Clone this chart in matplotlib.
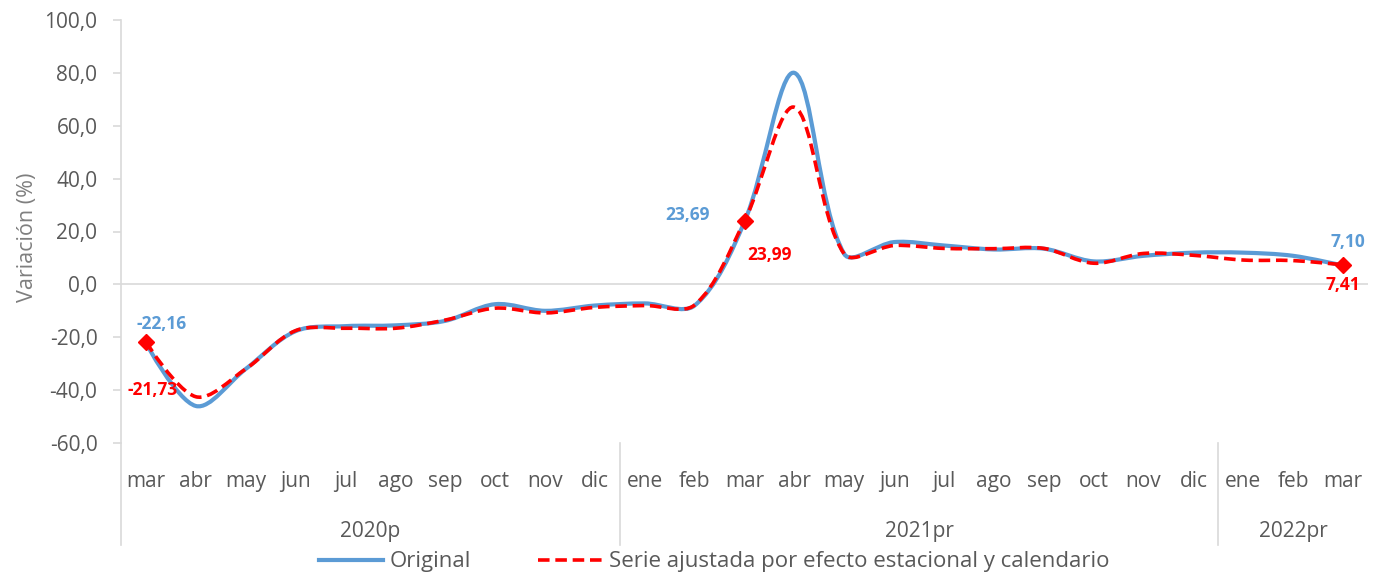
import numpy as np
import matplotlib.pyplot as plt
from matplotlib.path import Path
from matplotlib.patches import PathPatch
from matplotlib.lines import Line2D

plt.rcParams['font.family'] = ['Open Sans', 'DejaVu Sans']

months = ['mar', 'abr', 'may', 'jun', 'jul', 'ago', 'sep', 'oct', 'nov', 'dic',
          'ene', 'feb', 'mar', 'abr', 'may', 'jun', 'jul', 'ago', 'sep', 'oct', 'nov', 'dic',
          'ene', 'feb', 'mar']
years = ['2020p', '2021pr', '2022pr']
year_sizes = [10, 12, 3]

original = [-22.16, -46.0, -32.0, -17.7, -15.8, -15.5, -13.8, -7.5, -10.0, -8.0,
            -7.2, -8.0, 23.69, 80.0, 11.5, 16.0, 14.7, 13.2, 13.5, 8.7, 10.8, 12.0,
            12.0, 10.8, 7.10]
ajustada = [-21.73, -42.5, -32.0, -17.5, -16.6, -16.6, -13.5, -9.0, -10.8, -8.7,
            -8.0, -7.8, 23.99, 67.0, 11.5, 14.7, 13.6, 13.5, 13.6, 8.0, 11.7, 11.0,
            9.2, 9.0, 7.41]

blue = '#5B9BD5'
red = '#FF0000'
grey = '#595959'

# axes box in pixels
AX_L, AX_B, AX_W, AX_H = 121, 132, 1247, 423
XPX = AX_W / len(months)      # pixels per category
YPX = AX_H / 160.0            # pixels per y unit


def smooth_path(y, t=1 / 3):
    # Excel-like smoothed line: Bezier with chord-scaled tangents (screen space)
    x = np.arange(len(y), dtype=float)
    y = np.asarray(y, dtype=float)
    p = np.column_stack([x * XPX, y * YPX])
    n = len(p)
    cin = p.copy()
    cout = p.copy()
    for i in range(1, n - 1):
        d1 = np.hypot(*(p[i] - p[i - 1]))
        d2 = np.hypot(*(p[i + 1] - p[i]))
        tan = p[i + 1] - p[i - 1]
        cin[i] = p[i] - t * tan * d1 / (d1 + d2)
        cout[i] = p[i] + t * tan * d2 / (d1 + d2)
    verts = [p[0]]
    codes = [Path.MOVETO]
    for i in range(n - 1):
        verts += [cout[i], cin[i + 1], p[i + 1]]
        codes += [Path.CURVE4] * 3
    verts = np.array(verts) / [XPX, YPX]
    return Path(verts, codes)


fig = plt.figure(figsize=(13.79, 5.75), dpi=100)
ax = fig.add_axes([AX_L / 1379, AX_B / 575, AX_W / 1379, AX_H / 575])

ax.add_patch(PathPatch(smooth_path(original), fill=False, edgecolor=blue, lw=3.0,
                       capstyle='round', zorder=3))
ax.add_patch(PathPatch(smooth_path(ajustada), fill=False, edgecolor=red, lw=2.6,
                       linestyle=(0, (3.2, 1.6)), zorder=4))

mk = [0, 12, 24]
ax.plot(mk, [ajustada[i] for i in mk], linestyle='none', marker='D', ms=8,
        color=red, zorder=5)

ax.set_xlim(-0.5, len(months) - 0.5)
ax.set_ylim(-60, 100)
ax.set_yticks(np.arange(-60, 101, 20))
ax.set_yticklabels([f'{v:.1f}'.replace('.', ',') for v in np.arange(-60, 101, 20)])
ax.axhline(0, color='#d9d9d9', lw=1.2, zorder=1)

for s in ['top', 'right', 'bottom']:
    ax.spines[s].set_visible(False)
ax.spines['left'].set_color('#d9d9d9')
ax.spines['left'].set_linewidth(1.2)
ax.tick_params(axis='y', colors='#d9d9d9', labelcolor=grey, labelsize=15, length=6,
               width=1.2, pad=11)
ax.set_xticks(range(len(months)))
ax.set_xticklabels(months)
ax.tick_params(axis='x', length=0, pad=20, labelsize=15, labelcolor=grey)
ax.set_ylabel('Variación (%)', fontsize=15.5, color='#7f7f7f')
ax.yaxis.set_label_coords((38 - AX_L) / AX_W, (443 - 237) / AX_H)

# group separators and year labels
tr = ax.get_xaxis_transform()
bounds = [-0.5]
for n in year_sizes:
    bounds.append(bounds[-1] + n)
for b in bounds:
    if b < len(months) - 0.5:
        ax.add_line(Line2D([b, b], [0, -102 / AX_H], transform=tr, color='#d9d9d9',
                           lw=1.2, clip_on=False))
for i, yr in enumerate(years):
    ax.text((bounds[i] + bounds[i + 1]) / 2, -88 / AX_H, yr, transform=tr,
            ha='center', va='center', fontsize=15, color=grey)


# data labels
def lab(v):
    return f'{v:.2f}'.replace('.', ',')


bold = dict(fontsize=12.5, fontweight='bold', ha='center', va='center',
            textcoords='offset pixels')
ax.annotate(lab(original[0]), (0, ajustada[0]), xytext=(16, 18), color=blue, **bold)
ax.annotate(lab(ajustada[0]), (0, ajustada[0]), xytext=(7, -48), color=red, **bold)
ax.annotate(lab(original[12]), (12, ajustada[12]), xytext=(-57, 6), color=blue, **bold)
ax.annotate(lab(ajustada[12]), (12, ajustada[12]), xytext=(25, -34), color=red, **bold)
ax.annotate(lab(original[24]), (24, ajustada[24]), xytext=(5, 23), color=blue, **bold)
ax.annotate(lab(ajustada[24]), (24, ajustada[24]), xytext=(0, -20), color=red, **bold)

handles = [Line2D([], [], color=blue, lw=3.0),
           Line2D([], [], color=red, lw=2.6, linestyle=(0, (3.2, 1.6)))]
fig.legend(handles, ['Original', 'Serie ajustada por efecto estacional y calendario'],
           loc='center', bbox_to_anchor=(714 / 1379, 1 - 562 / 575), ncol=2, frameon=False,
           fontsize=16, handlelength=2.9, columnspacing=3.0, labelcolor=grey,
           handletextpad=0.3, borderpad=0)

fig.savefig('out.png', dpi=100)
